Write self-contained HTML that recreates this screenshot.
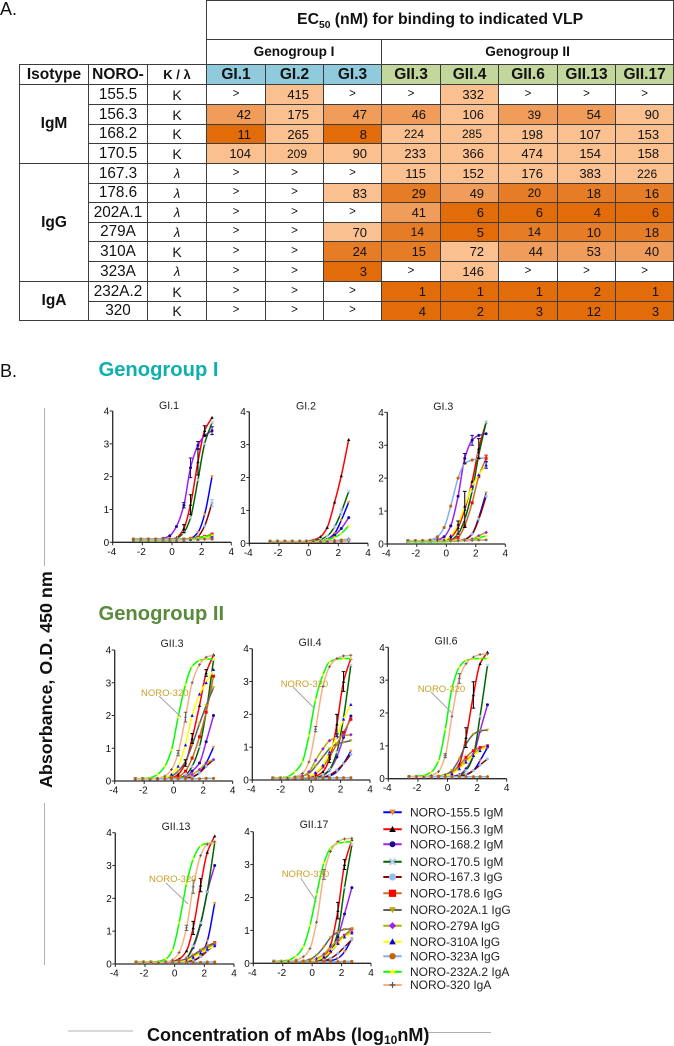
<!DOCTYPE html>
<html lang="en">
<head>
<meta charset="utf-8">
<title>EC50 table and VLP binding curves</title>
<style>
html,body{margin:0;padding:0;background:#fff;}
body{width:674px;height:1046px;position:relative;overflow:hidden;font-family:"Liberation Sans",sans-serif;color:#111;}
.abs{position:absolute;white-space:nowrap;line-height:1;}
table{position:absolute;left:19px;top:0;border-collapse:collapse;table-layout:fixed;width:654px;}
td{padding:0;border:1px solid #3c3c3c;text-align:center;vertical-align:middle;line-height:1;overflow:hidden;white-space:nowrap;}
td.e{border:none;}
td.h{font-weight:bold;font-size:15.5px;}
td.id{font-size:15.3px;}
td.k{font-size:14px;}
td.l{font-size:13px;font-style:italic;}
td.blue{background:#8fcbdc;font-weight:bold;font-size:15.5px;}
td.grn{background:#c3d69b;font-weight:bold;font-size:15.5px;}
td.g{font-size:11.5px;background:#fff;}
td.a,td.b,td.c,td.d{text-align:right;padding-right:14px;font-size:13px;}
td.a{background:#e36c0a;}
td.b{background:#e67d26;}
td.c{background:#f09c5a;}
td.d{background:#fac090;}
td.s{font-size:12px;padding-right:16px;}
sub{font-size:.65em;line-height:0;}
svg{position:absolute;left:0;top:0;}
</style>
</head>
<body>

<div class="abs" style="left:0;top:0;font-size:18px">A.</div>

<table>
<colgroup><col style="width:69px"><col style="width:59px"><col style="width:59px"><col style="width:59px"><col style="width:58px"><col style="width:58px"><col style="width:59px"><col style="width:58px"><col style="width:59px"><col style="width:58px"><col style="width:58px"></colgroup>
<tr style="height:39px"><td class="e" colspan="3"></td><td colspan="8" style="font-weight:bold;font-size:15.8px">EC<sub>50</sub> (nM) for binding to indicated VLP</td></tr>
<tr style="height:25px"><td class="e" colspan="3"></td><td colspan="3" style="font-weight:bold;font-size:13.6px">Genogroup I</td><td colspan="5" style="font-weight:bold;font-size:13.6px">Genogroup II</td></tr>
<tr style="height:20px"><td class="h">Isotype</td><td class="h">NORO-</td><td style="font-weight:bold;font-size:13px">K / λ</td><td class="blue">GI.1</td><td class="blue">GI.2</td><td class="blue">GI.3</td><td class="grn">GII.3</td><td class="grn">GII.4</td><td class="grn">GII.6</td><td class="grn">GII.13</td><td class="grn">GII.17</td></tr>
<tr style="height:20px"><td class="h" rowspan="4">IgM</td><td class="id">155.5</td><td class="k">K</td><td class="g">&gt;</td><td class="d">415</td><td class="g">&gt;</td><td class="g">&gt;</td><td class="d">332</td><td class="g">&gt;</td><td class="g">&gt;</td><td class="g">&gt;</td></tr>
<tr style="height:20px"><td class="id">156.3</td><td class="k">K</td><td class="c">42</td><td class="d">175</td><td class="c">47</td><td class="c">46</td><td class="d">106</td><td class="c s">39</td><td class="c">54</td><td class="d">90</td></tr>
<tr style="height:19px"><td class="id">168.2</td><td class="k">K</td><td class="a">11</td><td class="d">265</td><td class="a">8</td><td class="d s">224</td><td class="d s">285</td><td class="d">198</td><td class="d">107</td><td class="d">153</td></tr>
<tr style="height:20px"><td class="id">170.5</td><td class="k">K</td><td class="d">104</td><td class="d s">209</td><td class="d">90</td><td class="d">233</td><td class="d">366</td><td class="d">474</td><td class="d">154</td><td class="d">158</td></tr>
<tr style="height:20px"><td class="h" rowspan="6">IgG</td><td class="id">167.3</td><td class="l">λ</td><td class="g">&gt;</td><td class="g">&gt;</td><td class="g">&gt;</td><td class="d">115</td><td class="d">152</td><td class="d">176</td><td class="d">383</td><td class="d s">226</td></tr>
<tr style="height:19px"><td class="id">178.6</td><td class="l">λ</td><td class="g">&gt;</td><td class="g">&gt;</td><td class="d">83</td><td class="b">29</td><td class="c">49</td><td class="b s">20</td><td class="b">18</td><td class="b">16</td></tr>
<tr style="height:20px"><td class="id">202A.1</td><td class="l">λ</td><td class="g">&gt;</td><td class="g">&gt;</td><td class="g">&gt;</td><td class="c">41</td><td class="a">6</td><td class="a">6</td><td class="a">4</td><td class="a">6</td></tr>
<tr style="height:19px"><td class="id">279A</td><td class="l">λ</td><td class="g">&gt;</td><td class="g">&gt;</td><td class="d">70</td><td class="b s">14</td><td class="a">5</td><td class="b s">14</td><td class="b">10</td><td class="b">18</td></tr>
<tr style="height:20px"><td class="id">310A</td><td class="k">K</td><td class="g">&gt;</td><td class="g">&gt;</td><td class="b">24</td><td class="b">15</td><td class="d">72</td><td class="c">44</td><td class="c">53</td><td class="c">40</td></tr>
<tr style="height:20px"><td class="id">323A</td><td class="l">λ</td><td class="g">&gt;</td><td class="g">&gt;</td><td class="a">3</td><td class="g">&gt;</td><td class="d">146</td><td class="g">&gt;</td><td class="g">&gt;</td><td class="g">&gt;</td></tr>
<tr style="height:20px"><td class="h" rowspan="2">IgA</td><td class="id">232A.2</td><td class="k">K</td><td class="g">&gt;</td><td class="g">&gt;</td><td class="g">&gt;</td><td class="a">1</td><td class="a">1</td><td class="a">1</td><td class="a">2</td><td class="a">1</td></tr>
<tr style="height:19px"><td class="id">320</td><td class="k">K</td><td class="g">&gt;</td><td class="g">&gt;</td><td class="g">&gt;</td><td class="a">4</td><td class="a">2</td><td class="a">3</td><td class="a">12</td><td class="a">3</td></tr>
</table>

<div class="abs" style="left:0;top:362px;font-size:18px">B.</div>
<div class="abs" style="left:98.5px;top:360px;font-size:20.2px;font-weight:bold;color:#0fb0ac">Genogroup I</div>
<div class="abs" style="left:98.5px;top:604px;font-size:20.2px;font-weight:bold;color:#5a8a3c">Genogroup II</div>

<svg id="fig" width="674" height="1046" viewBox="0 0 674 1046" xmlns="http://www.w3.org/2000/svg">
  <line x1="44.5" y1="408" x2="44.5" y2="566" stroke="#b0b0b0"/>
  <line x1="44.5" y1="803" x2="44.5" y2="965" stroke="#b0b0b0"/>
  <line x1="68" y1="1031" x2="133" y2="1031" stroke="#b0b0b0"/>
  <line x1="427" y1="1032.5" x2="491" y2="1032.5" stroke="#b0b0b0"/>
  <text x="52" y="788" transform="rotate(-90 52 788)" font-family="Liberation Sans, sans-serif" font-size="17.9" font-weight="bold" fill="#111">Absorbance, O.D. 450 nm</text>
  <text x="147" y="1041" font-family="Liberation Sans, sans-serif" font-size="18" font-weight="bold" fill="#111">Concentration of mAbs (log<tspan font-size="12" dy="3">10</tspan><tspan dy="-3">nM)</tspan></text>
</svg>

<script>
const xValues = [-2.6,-2.1,-1.6,-1.1,-0.6,-0.15,0.3,0.8,1.25,1.75,2.2,2.7];
const xTicks = [-4,-2,0,2,4];
const yTicks = [0,1,2,3,4];
const seriesNames = ['NORO-155.5 IgM','NORO-156.3 IgM','NORO-168.2 IgM','NORO-170.5 IgM','NORO-167.3 IgG','NORO-178.6 IgG','NORO-202A.1 IgG','NORO-279A IgG','NORO-310A IgG','NORO-323A IgG','NORO-232A.2 IgA','NORO-320 IgA'];

const gi1 = [
[.08,.08,.08,.08,.08,.08,.08,.09,.12,.3,.85,2.0],
[.08,.08,.08,.08,.08,.09,.14,.42,1.15,2.45,3.4,3.8],
[.08,.08,.08,.09,.12,.2,.48,1.13,2.27,2.95,3.25,3.4],
[.08,.08,.08,.08,.08,.09,.12,.3,.75,1.9,3.0,3.65],
[.08,.08,.08,.08,.08,.08,.08,.09,.1,.18,.5,1.2],
[.08,.08,.08,.08,.08,.08,.09,.1,.12,.15,.18,.25],
[.1,.1,.1,.1,.1,.1,.1,.1,.11,.12,.15,.18],
[.08,.08,.08,.08,.08,.08,.08,.08,.09,.1,.12,.14],
[.06,.06,.06,.06,.06,.06,.07,.07,.08,.09,.12,.2],
[.1,.1,.1,.1,.1,.1,.1,.1,.1,.1,.1,.1],
[.06,.06,.06,.06,.06,.06,.07,.08,.1,.13,.17,.22],
[.07,.07,.07,.07,.07,.07,.07,.08,.08,.09,.1,.1]];

const gi2 = [
[.06,.06,.06,.06,.06,.06,.06,.07,.12,.3,.7,1.25],
[.06,.06,.06,.06,.06,.07,.1,.2,.48,1.25,2.05,3.15],
[.06,.06,.06,.06,.06,.06,.06,.07,.11,.25,.45,.78],
[.06,.06,.06,.06,.06,.06,.08,.12,.22,.5,.95,1.58],
[.06,.06,.06,.06,.06,.06,.06,.06,.07,.08,.1,.12],
[.06,.06,.06,.06,.06,.06,.06,.06,.06,.07,.08,.1],
[.06,.06,.06,.06,.06,.06,.06,.06,.06,.07,.07,.08],
[.06,.06,.06,.06,.06,.06,.06,.06,.06,.07,.08,.09],
[.06,.06,.06,.06,.06,.06,.06,.06,.07,.08,.1,.14],
[.06,.06,.06,.06,.06,.06,.06,.06,.07,.08,.1,.12],
[.06,.06,.06,.06,.06,.06,.06,.08,.11,.18,.3,.53],
[.06,.06,.06,.06,.06,.06,.06,.06,.06,.06,.06,.07]];

const gi3 = [
[.09,.09,.09,.09,.09,.09,.09,.1,.14,.3,.8,1.55],
[.09,.09,.09,.09,.1,.12,.2,.5,1.05,1.9,2.9,3.7],
[.09,.09,.09,.1,.13,.22,.55,1.45,2.6,3.15,3.3,3.35],
[.09,.09,.09,.09,.09,.1,.13,.3,.75,1.6,2.7,3.7],
[.09,.09,.09,.09,.09,.09,.09,.1,.14,.3,.75,1.45],
[.09,.09,.09,.09,.09,.1,.12,.2,.55,1.25,2.05,2.6],
[.1,.1,.1,.1,.1,.1,.1,.1,.1,.11,.12,.12],
[.09,.09,.09,.09,.09,.09,.09,.1,.12,.15,.25,.35],
[.08,.08,.08,.08,.09,.12,.25,.6,1.15,1.75,2.1,2.4],
[.1,.1,.1,.12,.22,.5,1.15,2.0,2.45,2.55,2.6,2.62],
[.07,.07,.07,.07,.07,.07,.08,.09,.11,.12,.18,.25],
[.1,.1,.1,.1,.1,.1,.1,.1,.11,.11,.12,.12]];

const gii3 = [
[.07,.07,.07,.07,.07,.07,.07,.08,.12,.25,.55,1.03],
[.07,.07,.07,.07,.08,.1,.2,.55,1.3,2.3,3.3,3.85],
[.07,.07,.07,.07,.07,.07,.08,.12,.3,.55,1.2,2.0],
[.07,.07,.07,.07,.07,.08,.09,.18,.45,1.05,2.1,3.7],
[.07,.07,.07,.07,.07,.07,.07,.08,.13,.25,.45,.65],
[.07,.07,.07,.07,.08,.09,.13,.3,.7,1.35,2.1,3.2],
[.07,.07,.07,.08,.09,.15,.3,.6,1.1,1.75,2.3,2.85],
[.07,.07,.07,.07,.07,.08,.09,.12,.2,.35,.55,.65],
[.07,.07,.07,.08,.1,.2,.45,1.1,2.0,2.65,3.0,3.4],
[.07,.07,.07,.07,.07,.07,.07,.07,.07,.07,.08,.08],
[.07,.07,.1,.2,.45,.95,1.95,2.95,3.5,3.68,3.72,3.72],
[.06,.06,.06,.08,.15,.35,.85,1.95,3.0,3.55,3.78,3.85]];

const gii4 = [
[.06,.06,.06,.06,.06,.06,.06,.08,.12,.25,.5,.88],
[.06,.06,.06,.06,.06,.08,.12,.25,.65,1.7,3.0,3.7],
[.06,.06,.06,.06,.06,.06,.07,.13,.3,.7,1.3,1.95],
[.06,.06,.06,.06,.06,.06,.07,.15,.32,.85,1.9,3.5],
[.06,.06,.06,.06,.06,.06,.06,.08,.15,.3,.5,.78],
[.06,.06,.06,.06,.06,.1,.2,.4,.7,1.1,1.45,1.85],
[.06,.06,.06,.07,.12,.2,.42,.7,.95,1.1,1.15,1.2],
[.06,.06,.06,.07,.12,.25,.6,.95,1.2,1.3,1.35,1.38],
[.06,.06,.06,.06,.06,.1,.22,.45,.85,1.35,1.85,2.3],
[.06,.06,.06,.06,.06,.06,.06,.06,.06,.07,.07,.07],
[.06,.07,.1,.25,.55,1.35,2.45,3.2,3.6,3.68,3.7,3.7],
[.06,.06,.06,.1,.2,.55,1.55,2.85,3.45,3.7,3.78,3.8]];

const gii6 = [
[.06,.06,.06,.06,.06,.06,.06,.08,.12,.25,.55,.95],
[.06,.06,.06,.06,.06,.1,.18,.45,1.25,2.55,3.5,3.85],
[.06,.06,.06,.06,.06,.06,.07,.12,.3,.7,1.45,2.25],
[.06,.06,.06,.06,.06,.06,.06,.1,.25,.7,1.9,3.45],
[.06,.06,.06,.06,.06,.06,.06,.08,.13,.25,.42,.6],
[.06,.06,.06,.06,.06,.1,.2,.4,.65,.85,.95,1.0],
[.06,.06,.06,.06,.08,.12,.25,.6,1.05,1.35,1.46,1.48],
[.06,.06,.06,.06,.06,.1,.17,.33,.55,.75,.9,.95],
[.06,.06,.06,.06,.06,.1,.15,.3,.5,.7,.85,1.0],
[.06,.06,.06,.06,.06,.06,.06,.06,.06,.06,.06,.06],
[.06,.07,.1,.2,.55,1.5,2.75,3.4,3.6,3.65,3.66,3.66],
[.06,.06,.06,.1,.22,.7,1.9,3.05,3.5,3.7,3.78,3.8]];

const gii13 = [
[.06,.06,.06,.06,.06,.06,.06,.06,.1,.25,.7,1.85],
[.06,.06,.06,.06,.06,.08,.15,.4,1.1,2.4,3.4,3.9],
[.06,.06,.06,.06,.06,.06,.07,.18,.5,1.2,2.2,3.0],
[.06,.06,.06,.06,.06,.06,.07,.18,.55,1.25,2.2,3.7],
[.06,.06,.06,.06,.06,.06,.06,.07,.11,.22,.4,.6],
[.06,.06,.06,.06,.06,.06,.08,.15,.27,.42,.55,.65],
[.06,.06,.06,.06,.06,.07,.1,.15,.27,.42,.55,.62],
[.06,.06,.06,.06,.06,.06,.07,.12,.22,.38,.5,.58],
[.06,.06,.06,.06,.06,.06,.07,.1,.2,.33,.45,.55],
[.05,.05,.05,.05,.05,.05,.05,.05,.05,.05,.06,.06],
[.05,.05,.05,.08,.15,.42,1.25,2.45,3.2,3.6,3.68,3.7],
[.05,.05,.05,.05,.06,.12,.35,1.1,2.35,3.3,3.65,3.72]];

const gii17 = [
[.06,.06,.06,.06,.06,.06,.06,.06,.08,.15,.35,.75],
[.06,.06,.06,.06,.06,.07,.1,.2,.55,1.6,3.0,3.75],
[.06,.06,.06,.06,.06,.06,.07,.13,.35,.8,1.5,2.3],
[.06,.06,.06,.06,.06,.06,.07,.14,.35,.95,2.3,3.6],
[.06,.06,.06,.06,.06,.06,.06,.08,.15,.3,.5,.72],
[.06,.06,.06,.06,.06,.07,.1,.18,.35,.6,.85,1.05],
[.06,.06,.06,.06,.07,.12,.25,.5,.78,.95,1.03,1.05],
[.06,.06,.06,.06,.06,.07,.14,.28,.5,.7,.85,.95],
[.06,.06,.06,.06,.06,.07,.1,.2,.38,.6,.8,.92],
[.05,.05,.05,.05,.05,.05,.05,.05,.05,.05,.06,.06],
[.06,.07,.1,.22,.5,1.15,2.1,3.05,3.5,3.65,3.68,3.7],
[.05,.05,.06,.1,.2,.45,1.25,2.7,3.4,3.7,3.78,3.8]];

/* error bars: [series index, point index, half-width] */
const gi1Err = [[1,7,.12],[1,8,.3],[1,9,.4],[1,10,.15],[2,7,.08],[2,8,.3],[2,9,.12],[2,11,.12],[4,11,.1]];
const gi2Err = [[3,10,.1],[4,11,.03]];
const gi3Err = [[1,7,.2],[1,8,.55],[1,10,.3],[2,8,.15],[2,9,.15],[5,11,.1],[8,11,.1]];
const gii3Err = [[11,6,.08],[11,7,.15],[1,7,.1],[1,8,.15],[1,10,.1]];
const gii4Err = [[11,6,.08],[1,8,.12],[1,9,.3],[1,10,.3]];
const gii6Err = [[11,5,.06],[11,7,.15],[1,8,.3],[1,9,.4]];
const gii13Err = [[11,7,.08],[11,8,.2],[1,8,.2],[1,9,.2]];
const gii17Err = [[11,7,.15],[1,9,.25],[1,10,.15]];

const lineColors = ['#0000ff','#ff0000','#a020f0','#006400','#8b0000','#c8701e','#606060','#b0b000','#ffff00','#80b0f0','#00ff00','#f4b183'];
const markerColors = ['#f58a1f','#000000','#1a0a8c','#b8c8f0','#90c0f0','#ff0000','#b8a800','#a020f0','#0000ff','#c86400','#ffff00','#555555'];
const markerKinds = ['tdown','tup','circle','x','circle','square','tdown','diamond','tup','hex','star','plus'];
const errColors = ['#f58a1f','#000000','#1a0a8c','#b8c8f0','#90c0f0','#ff0000','#b8a800','#a020f0','#0000ff','#c86400','#ffff00','#666666'];

const NS = 'http://www.w3.org/2000/svg';
const fig = document.getElementById('fig');
function mk(tag, attrs, parent) {
  const el = document.createElementNS(NS, tag);
  for (const k in attrs) el.setAttribute(k, attrs[k]);
  parent.appendChild(el);
  return el;
}
function smoothPath(pts) {
  const n = pts.length, d = [], m = [];
  for (let i = 0; i < n - 1; i++) d.push((pts[i+1][1] - pts[i][1]) / (pts[i+1][0] - pts[i][0]));
  m[0] = d[0]; m[n-1] = d[n-2];
  for (let i = 1; i < n - 1; i++) m[i] = d[i-1] * d[i] <= 0 ? 0 : 2 * d[i-1] * d[i] / (d[i-1] + d[i]);
  let s = 'M' + pts[0][0].toFixed(2) + ' ' + pts[0][1].toFixed(2);
  for (let i = 0; i < n - 1; i++) {
    const h = (pts[i+1][0] - pts[i][0]) / 3;
    s += 'C' + (pts[i][0] + h).toFixed(2) + ' ' + (pts[i][1] + m[i] * h).toFixed(2) + ' ' +
         (pts[i+1][0] - h).toFixed(2) + ' ' + (pts[i+1][1] - m[i+1] * h).toFixed(2) + ' ' +
         pts[i+1][0].toFixed(2) + ' ' + pts[i+1][1].toFixed(2);
  }
  return s;
}
function marker(parent, kind, x, y, r, color) {
  let el;
  const poly = a => a.map(p => (x + p[0] * r).toFixed(2) + ',' + (y + p[1] * r).toFixed(2)).join(' ');
  if (kind === 'circle') el = mk('circle', {cx: x, cy: y, r: r, fill: color}, parent);
  else if (kind === 'square') el = mk('rect', {x: x - r, y: y - r, width: 2 * r, height: 2 * r, fill: color}, parent);
  else if (kind === 'tup') el = mk('polygon', {points: poly([[0,-1.1],[1.1,.9],[-1.1,.9]]), fill: color}, parent);
  else if (kind === 'tdown') el = mk('polygon', {points: poly([[0,1.1],[1.1,-.9],[-1.1,-.9]]), fill: color}, parent);
  else if (kind === 'diamond') el = mk('polygon', {points: poly([[0,-1.2],[1.2,0],[0,1.2],[-1.2,0]]), fill: color}, parent);
  else if (kind === 'hex') el = mk('polygon', {points: poly([[-.5,-1],[.5,-1],[1,-.5],[1,.5],[.5,1],[-.5,1],[-1,.5],[-1,-.5]]), fill: color}, parent);
  else if (kind === 'star') el = mk('polygon', {points: poly([[0,-1.25],[.3,-.35],[1.2,-.35],[.5,.2],[.75,1.1],[0,.55],[-.75,1.1],[-.5,.2],[-1.2,-.35],[-.3,-.35]]), fill: color}, parent);
  else if (kind === 'x') el = mk('path', {d: 'M' + (x-r) + ' ' + (y-r) + 'L' + (x+r) + ' ' + (y+r) + 'M' + (x-r) + ' ' + (y+r) + 'L' + (x+r) + ' ' + (y-r), stroke: color, 'stroke-width': r * .7, fill: 'none'}, parent);
  else el = mk('path', {d: 'M' + (x-r) + ' ' + y + 'L' + (x+r) + ' ' + y + 'M' + x + ' ' + (y-r) + 'L' + x + ' ' + (y+r), stroke: color, 'stroke-width': Math.max(.8, r * .4), fill: 'none'}, parent);
  return el;
}
function drawPanel(key, title, titleX, titleY, values, errs, x0, x4, y0, y4) {
  const sx = v => x0 + (v + 4) / 8 * (x4 - x0);
  const sy = v => y0 - v / 4 * (y0 - y4);
  const g = mk('g', {}, fig);
  
  
  const t = mk('text', {x: titleX, y: titleY, 'text-anchor': 'middle', 'font-size': 10.6, 'font-family': 'Liberation Sans, sans-serif', fill: '#222'}, g);
  t.textContent = title;
  
  
  const ax = mk('path', {d: 'M' + x0 + ' ' + y4 + 'L' + x0 + ' ' + y0 + 'L' + x4 + ' ' + y0, stroke: '#2a2a2a', 'stroke-width': 1.3, fill: 'none'}, g);
  
  
  xTicks.forEach(v => {
    const tk = mk('line', {x1: sx(v), x2: sx(v), y1: y0, y2: y0 + 3, stroke: '#2a2a2a', 'stroke-width': 1}, g);
    
    
    const lb = mk('text', {x: sx(v) - (v < 0 ? 1 : 0), y: y0 + 12.5, 'text-anchor': 'middle', 'font-size': 10, 'font-family': 'Liberation Sans, sans-serif', fill: '#111'}, g);
    lb.textContent = v;
    
    
  });
  yTicks.forEach(v => {
    const tk = mk('line', {x1: x0 - 3, x2: x0, y1: sy(v), y2: sy(v), stroke: '#2a2a2a', 'stroke-width': 1}, g);
    
    
    const lb = mk('text', {x: x0 - 3.5, y: sy(v) + 3.5, 'text-anchor': 'end', 'font-size': 10, 'font-family': 'Liberation Sans, sans-serif', fill: '#111'}, g);
    lb.textContent = v;
    
    
  });
  values.forEach((vals, s) => {
    const sg = mk('g', {}, g);
    
    
    const pts = vals.map((v, i) => [sx(xValues[i]), sy(v)]);
    const p = mk('path', {d: smoothPath(pts), fill: 'none', stroke: lineColors[s], 'stroke-width': 1.5}, sg);
    
    
    pts.forEach(pt => {
      const m = marker(sg, markerKinds[s], pt[0], pt[1], 1.5, markerColors[s]);
      
      
    });
  });
  errs.forEach(e => {
    const x = sx(xValues[e[1]]), v = values[e[0]][e[1]];
    const yt = sy(v + e[2]), yb = sy(v - e[2]);
    const b = mk('path', {d: 'M' + (x-1.8) + ' ' + yt + 'L' + (x+1.8) + ' ' + yt + 'M' + x + ' ' + yt + 'L' + x + ' ' + yb + 'M' + (x-1.8) + ' ' + yb + 'L' + (x+1.8) + ' ' + yb, stroke: errColors[e[0]], 'stroke-width': 1, fill: 'none'}, g);
    
    
  });
}
function callout(key, tx, ty, x1, y1, x2, y2) {
  const l = mk('line', {x1: x1, y1: y1, x2: x2, y2: y2, stroke: '#a0a0a0', 'stroke-width': .9}, fig);
  
  
  const t = mk('text', {x: tx, y: ty, 'font-size': 9.5, 'font-family': 'Liberation Sans, sans-serif', fill: '#c9a227'}, fig);
  t.textContent = 'NORO-320';
  
  
}

drawPanel('gi1', 'GI.1', 169, 409, gi1, gi1Err, 112.7, 231.3, 542.3, 411);
drawPanel('gi2', 'GI.2', 306, 409.5, gi2, gi2Err, 249.3, 368, 543.3, 411.7);
drawPanel('gi3', 'GI.3', 443.3, 410, gi3, gi3Err, 387.3, 505.3, 544, 412.3);
drawPanel('gii3', 'GII.3', 172, 647, gii3, gii3Err, 114.7, 232.7, 781, 650);
drawPanel('gii4', 'GII.4', 310, 646, gii4, gii4Err, 252.3, 370, 780, 648.7);
drawPanel('gii6', 'GII.6', 446, 644.7, gii6, gii6Err, 388.3, 506.7, 778.7, 647.3);
drawPanel('gii13', 'GII.13', 176, 830, gii13, gii13Err, 115.3, 234, 964, 832.7);
drawPanel('gii17', 'GII.17', 314, 828, gii17, gii17Err, 253.3, 371, 963.3, 831.7);

callout('gii3', 141, 696, 159, 696, 181, 717);
callout('gii4', 280.7, 687, 293, 687, 314, 708);
callout('gii6', 417.7, 692, 431, 692, 452, 713);
callout('gii13', 149, 882, 166, 883, 188, 904);
callout('gii17', 281.7, 877, 300.7, 878, 316.7, 902);

const legendRows = [812.3,829.3,844.3,861.7,877,893.3,910,925.7,941.7,956.3,971.7,985];
const legend = mk('g', {}, fig);


seriesNames.forEach((name, s) => {
  const y = legendRows[s];
  const e = mk('g', {}, legend);
  
  
  const l = mk('line', {x1: 383.3, x2: 401.7, y1: y, y2: y, stroke: lineColors[s], 'stroke-width': 2}, e);
  
  
  const m = marker(e, markerKinds[s], 392.5, y, s === 5 || s === 4 ? 3.6 : 3, markerColors[s]);
  
  
  const t = mk('text', {x: 410, y: y + 4.2, 'font-size': 12, 'font-family': 'Liberation Sans, sans-serif', fill: '#222'}, e);
  t.textContent = name;
  
  
});
</script>
</body>
</html>
